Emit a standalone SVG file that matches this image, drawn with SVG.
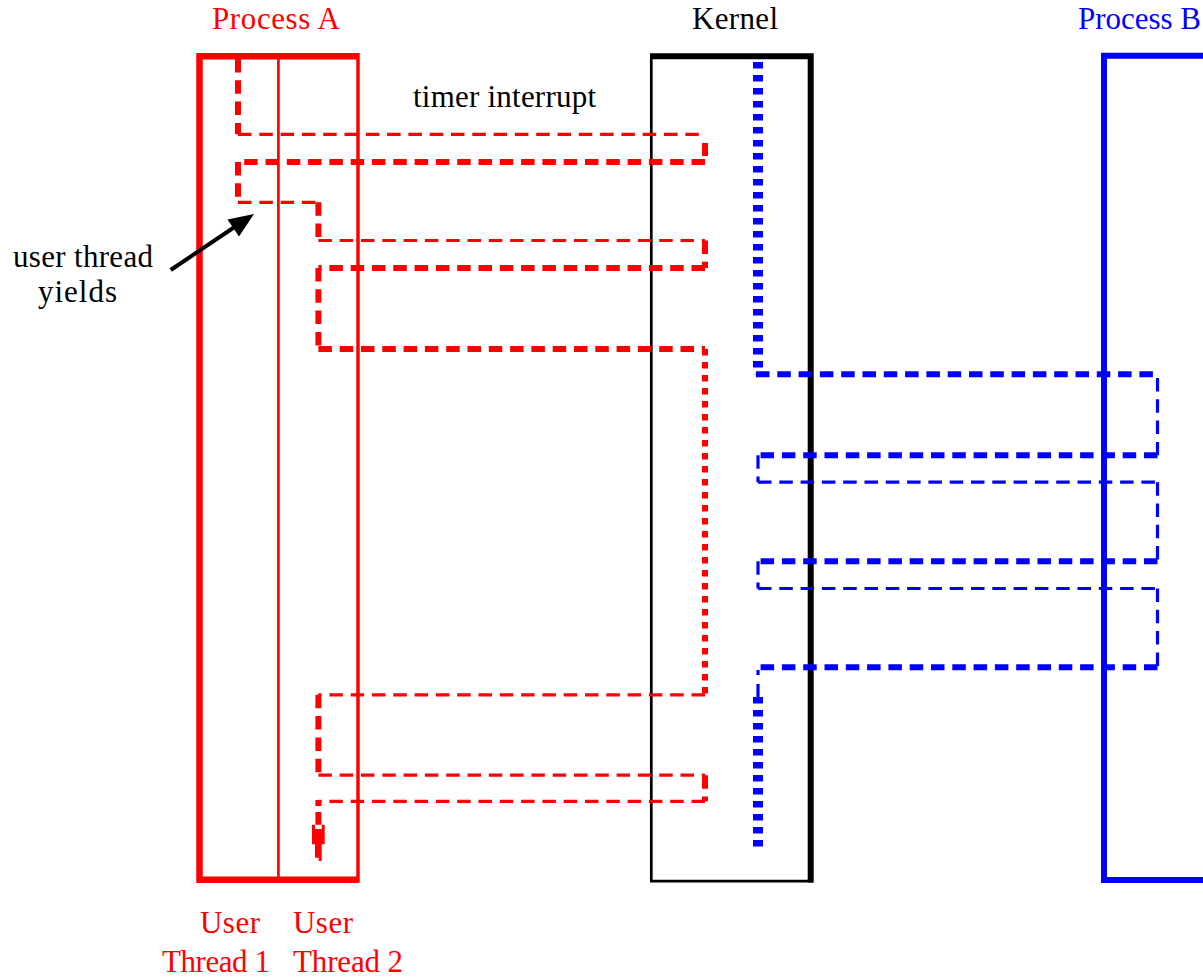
<svg xmlns="http://www.w3.org/2000/svg" width="1203" height="977" viewBox="0 0 1203 977">
  <style>
    text { font-family: "Liberation Serif", "Times New Roman", serif; font-size: 31px; }
    .red { fill: #ff0000; }
    .blue { fill: #0000ff; }
    .black { fill: #000000; }
    .box { fill: none; stroke-linecap: butt; stroke-linejoin: miter; }
    .r { stroke: #ff0000; fill: none; }
    .b { stroke: #0000ff; fill: none; }
    .thick { stroke-width: 6; }
    .thin { stroke-width: 3.2; }
    .dash { stroke-dasharray: 13.5 7.8; }
    .dot { stroke-dasharray: 6.5 6.5; }
    .bdot { stroke-width: 10; stroke-dasharray: 6.5 6.5; }
  </style>

  <rect x="0" y="0" width="1203" height="977" fill="#ffffff"/>

  <!-- Process A: address space holding two user threads -->
  <g id="process-a">
    <path class="box" d="M358,56.2 H199.5 V879.7 H358" stroke="#ff0000" stroke-width="6.5"/>
    <path class="box" d="M358,53 V882.8" stroke="#ff0000" stroke-width="3.5"/>
    <path class="box" d="M278.4,56 V880" stroke="#ff0000" stroke-width="2.7"/>
    <text class="red" x="212" y="29" textLength="128" lengthAdjust="spacing">Process A</text>
    <text class="red" x="200" y="933" textLength="60" lengthAdjust="spacing">User</text>
    <text class="red" x="162" y="971.5" textLength="108" lengthAdjust="spacing">Thread 1</text>
    <text class="red" x="293" y="933" textLength="60" lengthAdjust="spacing">User</text>
    <text class="red" x="293" y="971.5" textLength="110" lengthAdjust="spacing">Thread 2</text>
  </g>

  <!-- Kernel -->
  <g id="kernel">
    <path class="box" d="M650,56.2 H810.7 V882.5" stroke="#000000" stroke-width="6"/>
    <path class="box" d="M651.3,56 V881.2 H813" stroke="#000000" stroke-width="2.7"/>
    <text class="black" x="692" y="29" textLength="86" lengthAdjust="spacing">Kernel</text>
  </g>

  <!-- Process B -->
  <g id="process-b">
    <path class="box" d="M1210,55.7 H1104 V880 H1210" stroke="#0000ff" stroke-width="6"/>
    <text class="blue" x="1078" y="29" textLength="123" lengthAdjust="spacing">Process B</text>
  </g>

  <!-- Labels -->
  <g id="timer-label">
    <text class="black" x="413" y="106.7" textLength="183" lengthAdjust="spacing">timer interrupt</text>
  </g>
  <g id="yield-label">
    <text class="black" x="13" y="266.7" textLength="140" lengthAdjust="spacing">user thread</text>
    <text class="black" x="38" y="302" textLength="79" lengthAdjust="spacing">yields</text>
  </g>

  <!-- Control flow traces -->
  <g id="connectors">
    <!-- Process A threads, switching through the kernel -->
    <g id="trace-a">
      <path class="r thick dash" d="M238,59 V134.3"/>
      <path class="r thin dash" d="M238,134.3 H705"/>
      <path class="r thick" d="M705,143 V156"/>
      <path class="r thick dash" d="M705,162 H238"/>
      <path class="r thick dash" d="M238,162 V202.3"/>
      <path class="r thin dash" d="M238,202.3 H318.4"/>
      <path class="r thick dash" d="M318.4,202.3 V240.5"/>
      <path class="r thin dash" d="M318.4,240.5 H705"/>
      <path class="r thick dash" d="M705,240.5 V268"/>
      <path class="r thick dash" d="M705,268 H318.4"/>
      <path class="r thick dash" d="M318.4,268 V349"/>
      <path class="r thick dash" d="M318.4,349 H705"/>
      <path class="r thick dot" d="M705,349 V694.8"/>
      <path class="r thin dash" d="M705,694.8 H318.4"/>
      <path class="r thick dash" d="M318.4,694.8 V775.2"/>
      <path class="r thin dash" d="M318.4,775.2 H705"/>
      <path class="r thick dash" d="M705,775.2 V801.3"/>
      <path class="r thin dash" d="M705,801.3 H318.4"/>
      <path class="r thick" d="M318.4,800 V806 M318.4,812 V824.7"/>
      <path fill="#ff0000" d="M312,824.7 H315 V829 H321.7 V824.7 H324.7 V844.3 H321.7 V861 H318.7 V857.7 H315 V844.3 H312 Z"/>
    </g>

    <!-- Process B thread, switching through the kernel -->
    <g id="trace-b">
      <path class="b bdot" d="M758,62 V374.3"/>
      <path class="b thick dash" d="M756,374.3 H1157.5"/>
      <path class="b thin dash" d="M1157.5,378 V455.3"/>
      <path class="b thick dash" d="M1157.5,455.3 H756"/>
      <path class="b thin dash" d="M758,455.3 V482.2"/>
      <path class="b thin dash" d="M758,482.2 H1157.5"/>
      <path class="b thin dash" d="M1157.5,482.2 V561.3"/>
      <path class="b thick dash" d="M1157.5,561.3 H756"/>
      <path class="b thin dash" d="M758,561.3 V588.5"/>
      <path class="b thin dash" d="M758,588.5 H1157.5"/>
      <path class="b thin dash" d="M1157.5,588.5 V667.3"/>
      <path class="b thick dash" d="M1157.5,667.3 H756"/>
      <path class="b thin" d="M758,670 V675 M758,684 V697"/>
      <path class="b bdot" d="M758,697 V848"/>
    </g>

    <!-- Pointer from the "user thread yields" label -->
    <g id="yield-arrow">
      <line x1="170.7" y1="270" x2="236" y2="226" stroke="#000000" stroke-width="4"/>
      <polygon points="254,214 239,236.5 227.5,219.5" fill="#000000"/>
    </g>
  </g>
</svg>
